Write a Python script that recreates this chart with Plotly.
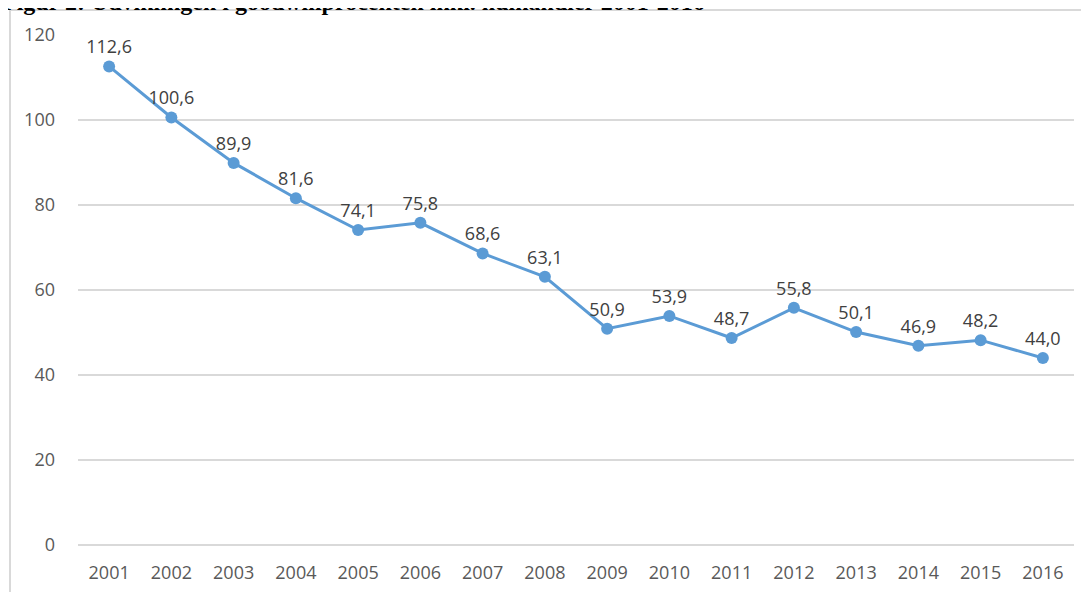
import plotly.graph_objects as go

years = [str(y) for y in range(2001, 2017)]
values = [112.6, 100.6, 89.9, 81.6, 74.1, 75.8, 68.6, 63.1, 50.9, 53.9, 48.7, 55.8, 50.1, 46.9, 48.2, 44.0]
labels = [f"{v:.1f}".replace(".", ",") for v in values]
y_ticks = [0, 20, 40, 60, 80, 100, 120]
title_text = "Figur 2: Udviklingen i goodwillprocenten inkl. nulhandler 2001-2016"

# page has an 8px body margin; work in svg pixel coordinates
OFF = 8
W, H = 1089 - 2 * OFF, 592 - OFF
L, R, T, B = 78 - OFF, 1089 - OFF - 1074, 35 - OFF, (592 - OFF) - 537
pw, ph = W - L - R, H - T - B

def px_x(px):
    return (px - OFF - L) / pw

def px_y(py):
    return (H - B - (py - OFF)) / ph

fig = go.Figure()
fig.add_trace(go.Scatter(
    x=years, y=values, mode="lines+markers+text",
    text=labels, textposition="top center",
    textfont=dict(family="Open Sans", size=18, color="#404040"),
    line=dict(color="#5b9bd5", width=3),
    marker=dict(color="#5b9bd5", size=12),
    cliponaxis=False, showlegend=False,
))

fig.update_layout(
    width=W, height=H,
    margin=dict(l=L, r=R, t=T, b=B, autoexpand=False),
    paper_bgcolor="white", plot_bgcolor="white",
    font=dict(family="Open Sans", size=18, color="#595959"),
    xaxis=dict(type="category", range=[-0.5, 15.5], showgrid=False, automargin=False,
               showline=False, ticks="", ticklabelstandoff=15,
               tickfont=dict(size=18, color="#595959")),
    yaxis=dict(range=[0, 120], tickvals=y_ticks, showgrid=True, automargin=False,
               gridcolor="#d9d9d9", gridwidth=2, zeroline=True,
               zerolinecolor="#d9d9d9", zerolinewidth=2, ticks="",
               ticklabelstandoff=22, tickfont=dict(size=18, color="#595959")),
    shapes=[dict(type="rect", xref="paper", yref="paper",
                 x0=px_x(10), x1=px_x(1200), y0=px_y(700), y1=px_y(10),
                 line=dict(color="#d9d9d9", width=2), fillcolor="rgba(0,0,0,0)",
                 layer="below")],
    annotations=[dict(text="<b>" + title_text + "</b>", xref="paper", yref="paper",
                      x=px_x(0), y=px_y(17), xanchor="left", yanchor="bottom",
                      showarrow=False,
                      font=dict(family="Liberation Serif", size=24, color="black"))],
)

fig.write_html("out.html")
